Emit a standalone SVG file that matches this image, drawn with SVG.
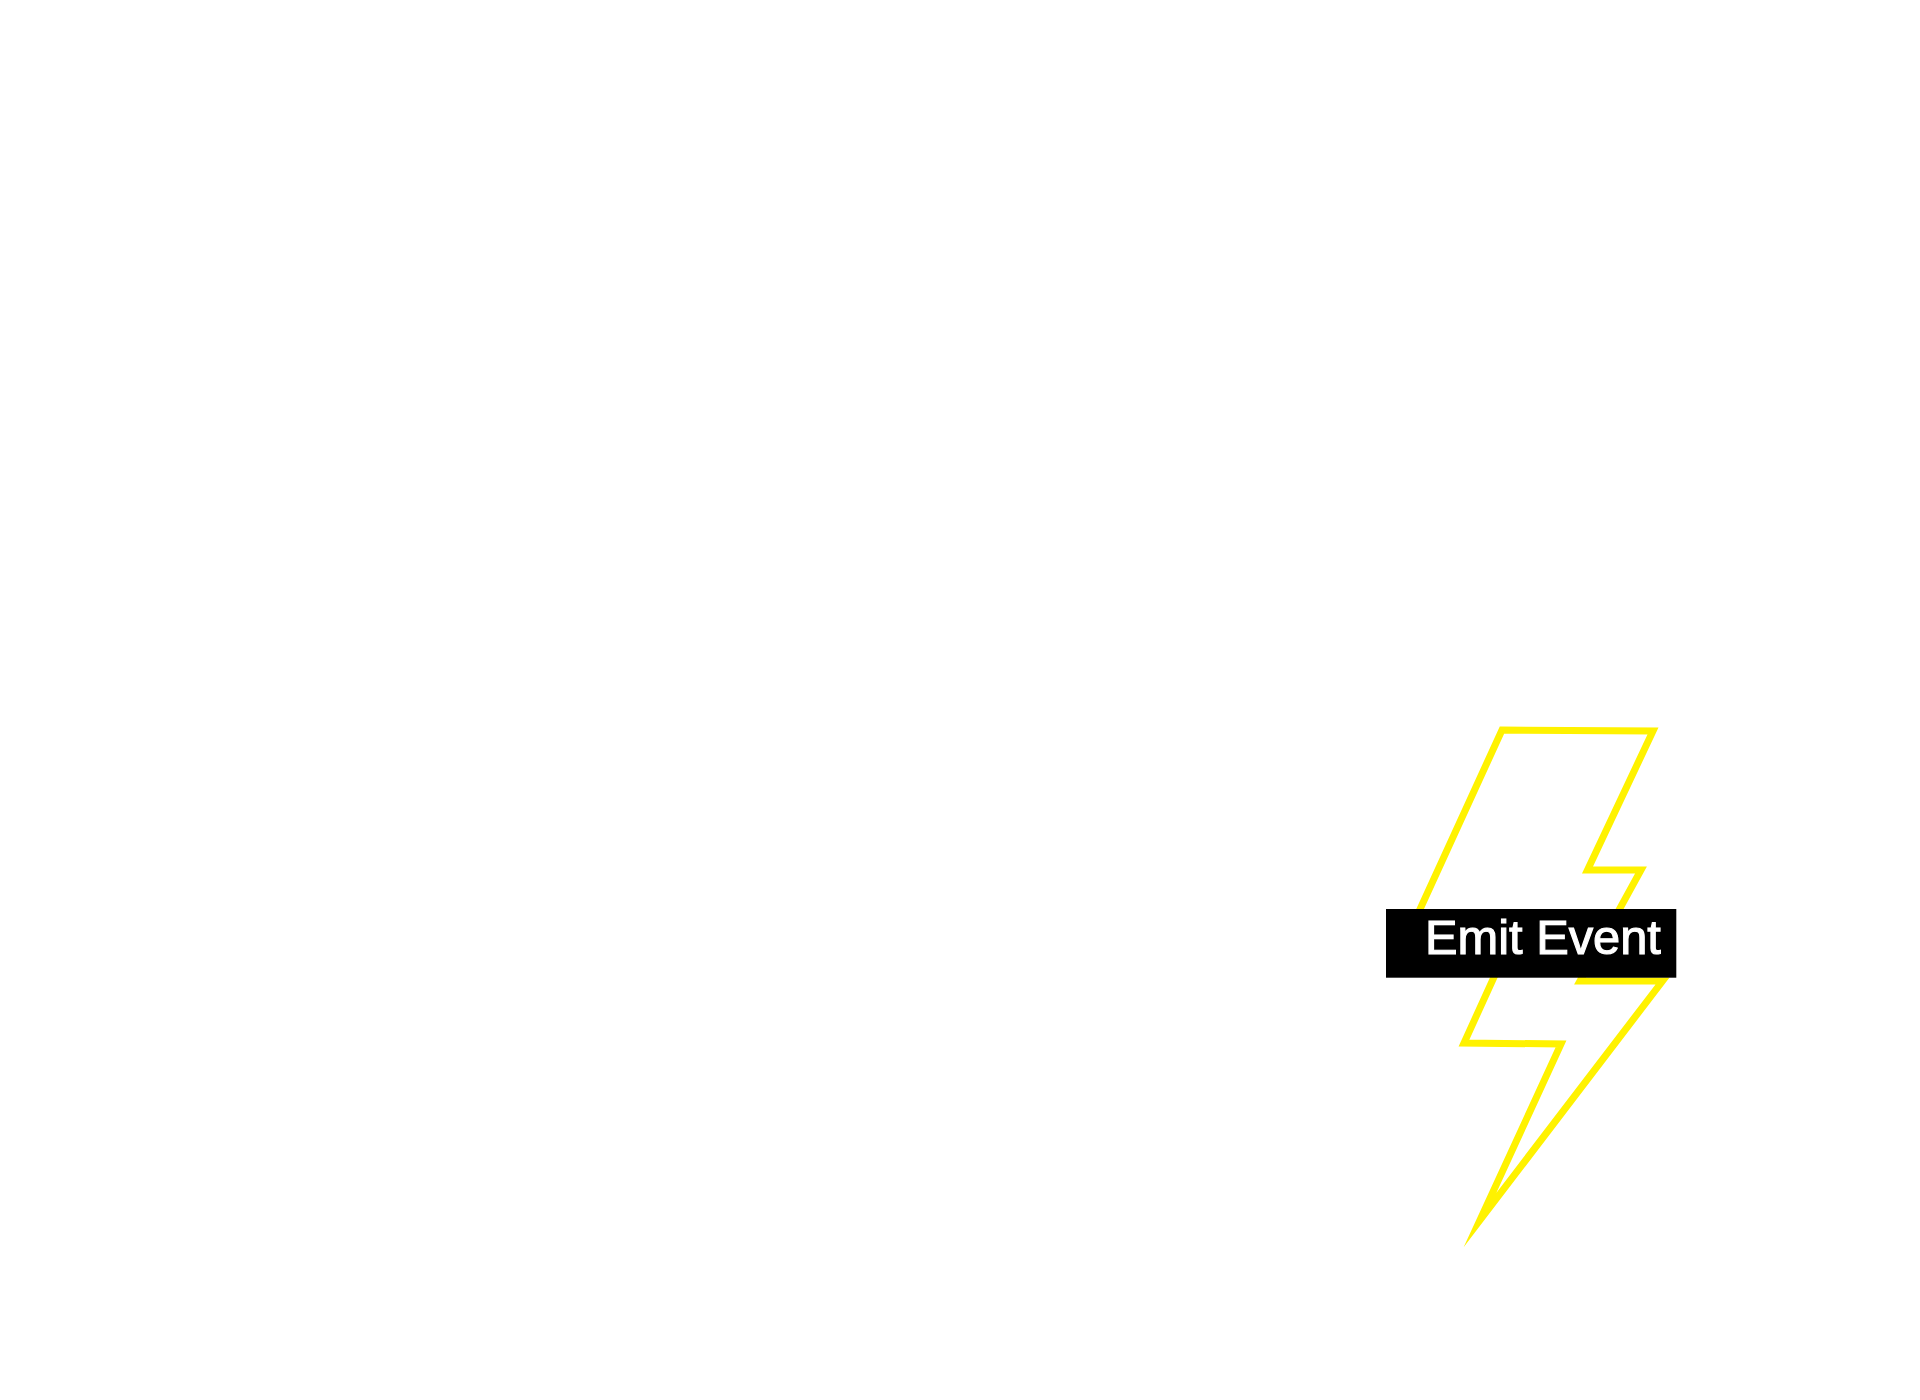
<svg xmlns="http://www.w3.org/2000/svg" width="1920" height="1400" viewBox="0 0 1920 1400">
<style>
.bolt{fill:none;stroke:#fff200;stroke-width:7;stroke-miterlimit:20}
.tag{fill:#000}
.label{fill:#fff;stroke:#fff;stroke-width:1.1px;font-family:"Liberation Sans",Arial,sans-serif;font-size:48.8px}
</style>
<rect width="1920" height="1400" fill="#fff"/>
<g id="emit-event">
<path class="bolt" d="M1502 730L1653 731L1587.5 870L1641 870L1580 981L1662.5 981L1480 1220L1561 1044L1464 1043L1510 942L1405 942Z"/>
<rect class="tag" x="1386" y="909" width="290.3" height="68.7"/>
<text class="label" x="1425" y="954">Emit Event</text>
</g>
<g id="connectors"/>
</svg>
